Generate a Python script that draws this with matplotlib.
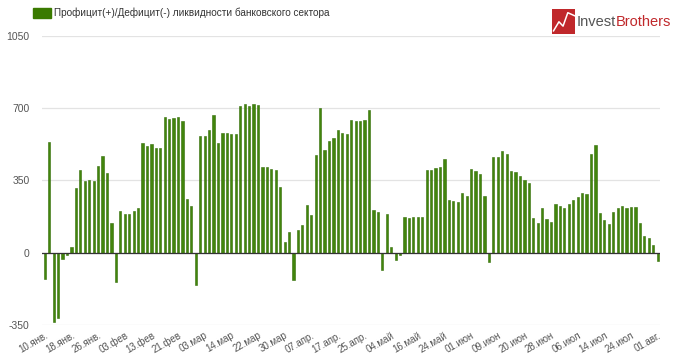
import matplotlib
matplotlib.use('Agg')
import matplotlib.pyplot as plt
from matplotlib.patches import Rectangle
from matplotlib.lines import Line2D

plt.rcParams['font.family'] = ['Liberation Sans', 'DejaVu Sans']

# Daily liquidity surplus(+)/deficit(-), working days from 10 Jan to 01 Aug
values = [
    -130, 537, -336, -317, -29, -11, 27, 312, 401, 348,
    351, 346, 418, 468, 386, 142, -143, 200, 188, 187,
    204, 216, 529, 516, 525, 508, 508, 655, 647, 652,
    656, 637, 259, 224, -156, 565, 566, 594, 666, 529,
    578, 578, 576, 576, 710, 721, 710, 721, 716, 414,
    415, 405, 399, 317, 53, 100, -132, 109, 135, 230,
    182, 473, 703, 497, 542, 554, 594, 578, 573, 642,
    636, 636, 645, 689, 209, 195, -82, 188, 29, -35,
    -11, 172, 167, 175, 174, 175, 401, 402, 409, 415,
    452, 254, 248, 245, 290, 275, 404, 394, 380, 275,
    -47, 465, 465, 491, 480, 394, 391, 372, 351, 338,
    167, 142, 216, 163, 150, 235, 228, 217, 238, 253,
    269, 290, 283, 476, 521, 191, 156, 138, 195, 216,
    227, 214, 220, 220, 143, 80, 71, 35, -40,
]

tick_labels = [
    '10.янв.', '18.янв.', '26.янв.', '03.фев', '13.фев', '21.фев',
    '03.мар', '14.мар', '22.мар', '30.мар', '07.апр.', '17.апр.',
    '25.апр.', '04.май', '16.май', '24.май', '01.июн', '09.июн',
    '20.июн', '28.июн', '06.июл', '14.июл', '24.июл', '01.авг.',
]
y_ticks = [-350, 0, 350, 700, 1050]
legend_label = 'Профицит(+)/Дефицит(-) ликвидности банковского сектора'

fig = plt.figure(figsize=(6.8, 3.63), dpi=100)
ax = fig.add_axes([0.062, 0.105, 0.909, 0.796])

x = list(range(len(values)))
ax.bar(x, values, width=0.5, color='#42850c', edgecolor='#336e08', linewidth=0.4, zorder=3)

ax.set_xlim(-0.6, len(values) - 0.4)
ax.set_ylim(-350, 1050)
ax.set_yticks(y_ticks)
ax.set_yticklabels([str(v) for v in y_ticks], fontsize=7.5, color='#555555')
ax.grid(axis='y', color='#e3e3e3', linewidth=0.9, zorder=0)
ax.axhline(0, color='#333333', linewidth=0.9, zorder=4)

ax.set_xticks(x[::6])
ax.set_xticklabels(tick_labels, rotation=30, ha='right', va='top',
                   rotation_mode='anchor', fontsize=7, color='#555555')
ax.tick_params(axis='both', length=0, pad=4)
ax.tick_params(axis='y', pad=9)

for s in ax.spines.values():
    s.set_visible(False)

# legend
fig.patches.append(Rectangle((0.049, 0.951), 0.026, 0.026, transform=fig.transFigure,
                             color='#3a7a00', figure=fig))
fig.text(0.079, 0.964, legend_label, fontsize=7.2, color='#333333', va='center')

# logo
fig.patches.append(Rectangle((0.812, 0.905), 0.034, 0.07, transform=fig.transFigure,
                             facecolor='#c0282b', edgecolor='none', figure=fig))
fig.lines.append(Line2D([0.814, 0.822, 0.828, 0.835, 0.847], [0.915, 0.94, 0.928, 0.965, 0.955],
                        transform=fig.transFigure, color='white', linewidth=1.1, figure=fig))
t1 = fig.text(0.848, 0.94, 'Invest', fontsize=10.5, color='#555555', va='center')
fig.canvas.draw()
bb = t1.get_window_extent().transformed(fig.transFigure.inverted())
fig.text(bb.x1, 0.94, 'Brothers', fontsize=10.5, color='#c0282b', va='center')

fig.savefig('out.png', dpi=100)
